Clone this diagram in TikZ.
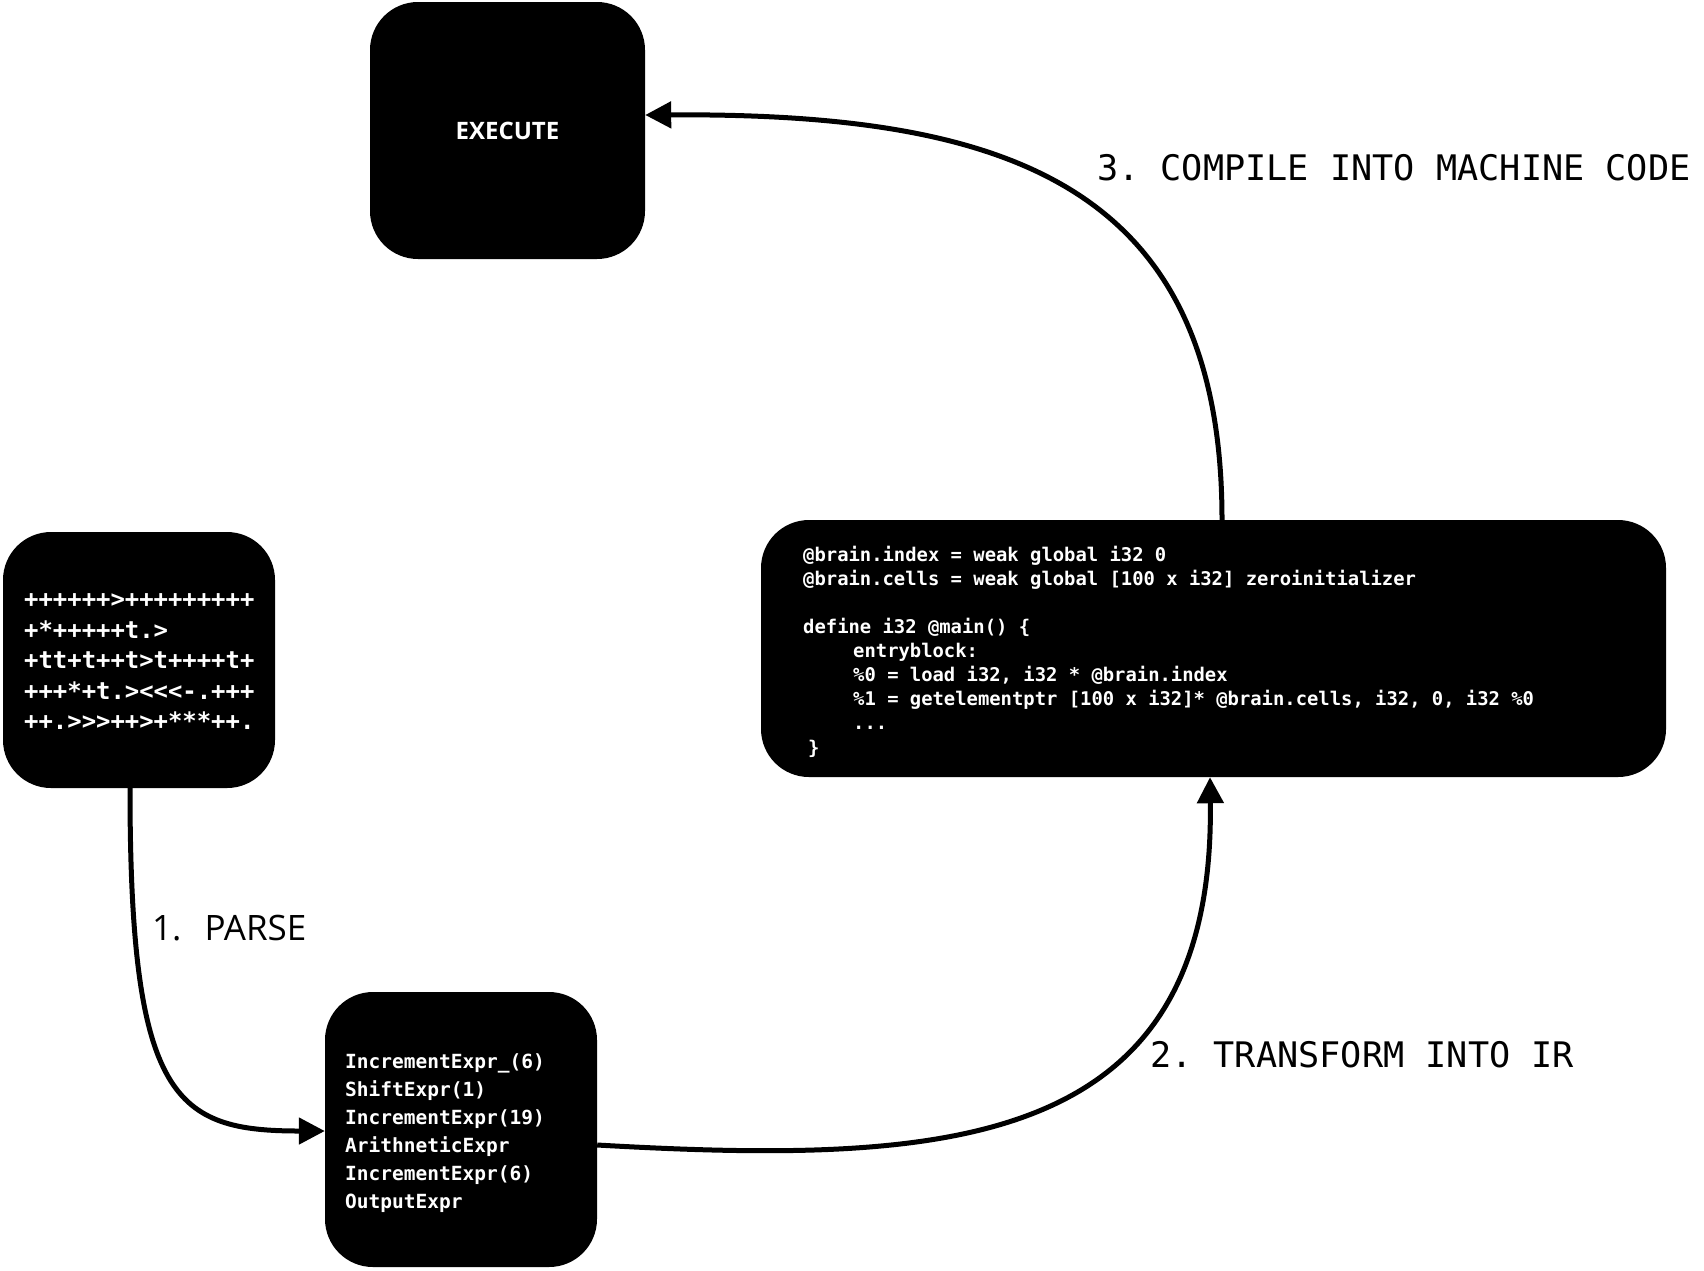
\documentclass[tikz,border=0pt]{standalone}
\usepackage{fontspec}
\setmonofont{DejaVu Sans Mono}
\newfontfamily\labelsans{Open Sans}
\usetikzlibrary{arrows.meta,calc}
\begin{document}
\begin{tikzpicture}[x=1pt,y=-1pt,
  box/.style={fill=black, rounded corners=48pt, inner sep=0pt, text=white, draw=none},
  codetext/.style={inner sep=0pt, text=white, align=left, anchor=west},
  lbl/.style={inner sep=0pt, anchor=base west, text=black},
  conn/.style={line width=5pt, draw=black, -{Triangle[length=26pt,width=26pt]}}]
\useasboundingbox (0,0) rectangle (1704,1270);
\fill[white] (0,0) rectangle (1704,1270);
% boxes
\node[box, minimum width=272pt, minimum height=256pt] (src) at (139,660) {};
\node[box, minimum width=275pt, minimum height=257pt,
      font=\labelsans\bfseries\fontsize{24}{30}\selectfont] (exec) at (507.5,130.5) {EXECUTE};
\node[box, minimum width=905pt, minimum height=257pt] (ir) at (1213.5,648.5) {};
\node[box, minimum width=272pt, minimum height=275pt] (ast) at (461,1129.5) {};
% texts inside boxes
\node[codetext, font=\ttfamily\bfseries\fontsize{23.9}{30.5}\selectfont] (srccode) at (24,662)
  {++++++>+++++++++\\+*+++++t.>\\+tt+t++t>t++++t+\\+++*+t.><<<-.+++\\++.>>>++>+***++.};
\node[codetext, font=\ttfamily\bfseries\fontsize{18.85}{24.1}\selectfont] (ircode) at (803,651.5)
  {@brain.index = weak global i32 0\\
   @brain.cells = weak global [100 x i32] zeroinitializer\\[24.1pt]
   define i32 @main() \{\\
   \hspace*{50pt}entryblock:\\
   \hspace*{50pt}\%0 = load i32, i32 * @brain.index\\
   \hspace*{50pt}\%1 = getelementptr [100 x i32]* @brain.cells, i32, 0, i32 \%0\\
   \hspace*{50pt}...\\
   \hspace*{5pt}\}};
\node[codetext, font=\ttfamily\bfseries\fontsize{19.5}{28}\selectfont] (astcode) at (345,1133)
  {IncrementExpr\_(6)\\ShiftExpr(1)\\IncrementExpr(19)\\ArithneticExpr\\IncrementExpr(6)\\OutputExpr};
% labels
\node[lbl, font=\labelsans\fontsize{35}{40}\selectfont] (parselbl) at (152,940) {1.\hspace*{23pt}PARSE};
\node[lbl, font=\ttfamily\fontsize{35.2}{40}\selectfont] (irlbl) at (1150,1067) {2. TRANSFORM INTO IR};
\node[lbl, font=\ttfamily\fontsize{35.2}{40}\selectfont] (complbl) at (1097,180) {3. COMPILE INTO MACHINE CODE};
% connectors
\draw[conn] ($(src.south)+(-9,0)$) .. controls (130,1100) and (175,1131) .. ($(ast.west)+(0,1.5)$);
\draw[conn] ($(ast.east)+(0,15.5)$) .. controls (950,1165) and (1215,1150) .. ($(ir.south)+(-3.5,0)$);
\draw[conn] ($(ir.north)+(8.5,0)$) .. controls (1222,180) and (1000,113) .. ($(exec.east)+(0,-15.5)$);
\end{tikzpicture}
\end{document}
